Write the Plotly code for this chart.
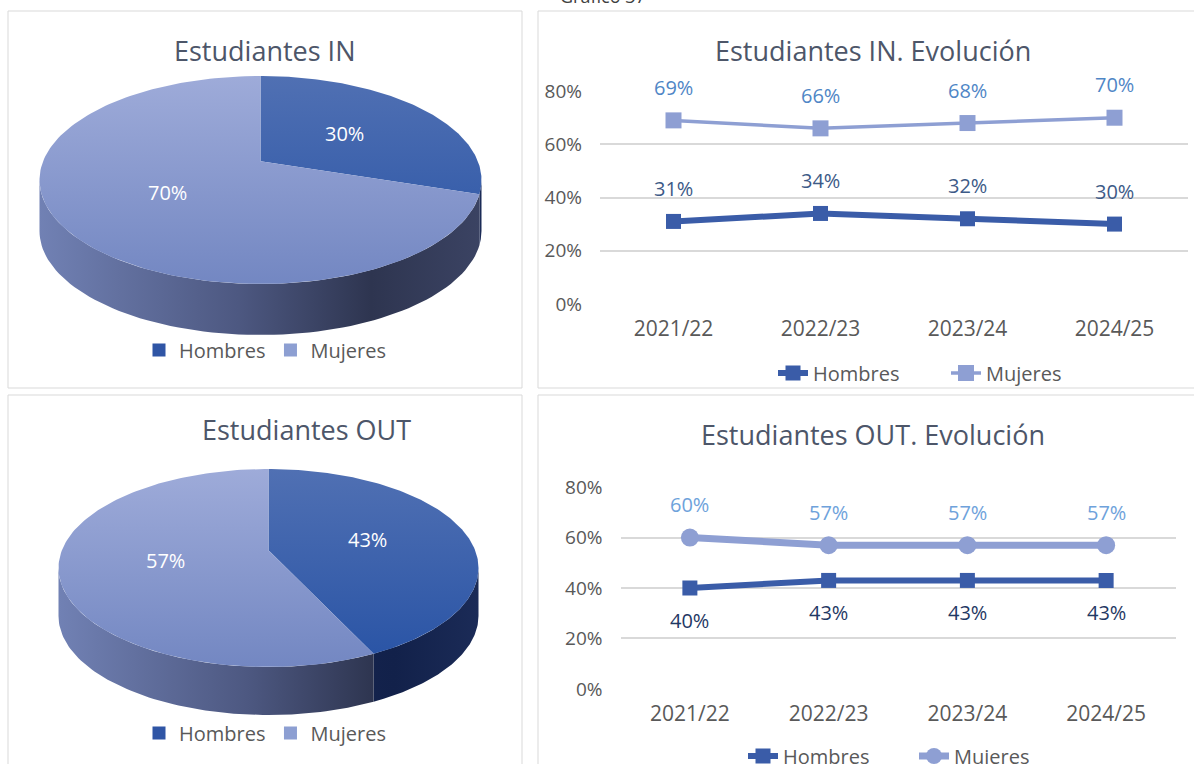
import numpy as np
import plotly.graph_objects as go

# ---- data -------------------------------------------------------------
years = ["2021/22", "2022/23", "2023/24", "2024/25"]
in_hombres = [31, 34, 32, 30]
in_mujeres = [69, 66, 68, 70]
out_hombres = [40, 43, 43, 43]
out_mujeres = [60, 57, 57, 57]

pie_labels = ["Hombres", "Mujeres"]
pie_in = [30, 70]
pie_out = [43, 57]

# ---- page geometry (pixels) -------------------------------------------
W, H = 1194, 764
FONT = "Open Sans, Lato, sans-serif"
GRAY = "#595959"
TITLE = "#4d5669"

C_H = "#3a5ca8"      # Hombres
C_M = "#8e9fd3"      # Mujeres


def fx(x):
    return x / W


def fy(y):
    return 1 - y / H


fig = go.Figure()

# ---- tilted 3D pies drawn on a pixel-scaled overlay axis ---------------
TOP_SCALES = {
    "Hombres": [[0, "#5070b3"], [1, "#2853a5"]],
    "Mujeres": [[0, "#9eabd9"], [1, "#7387c2"]],
}
WALL_SCALES = {
    "Hombres": [[0, "#1d2d5a"], [0.5, "#172753"], [0.8, "#12214a"], [1, "#1b2b57"]],
    "Mujeres": [[0, "#7181b4"], [0.45, "#4d5881"], [0.75, "#2e3550"], [1, "#3b4363"]],
}


def pie3d(values, labels, cx, cy, rx, ry, depth, alpha):
    total = float(sum(values))
    rxp = rx * np.sqrt(1 - alpha ** 2)

    def proj(theta, r=1.0):
        t = np.radians(theta)
        u = r * np.cos(t)
        v = r * np.sin(t)
        d = 1 + alpha * v
        return cx + rxp * u / d, cy - ry * (v + alpha) / d

    vis_lo = 180 + np.degrees(np.arcsin(alpha))
    vis_hi = 360 - np.degrees(np.arcsin(alpha))

    spans = []
    a0 = 90.0
    for v in values:
        a1 = a0 - 360.0 * v / total
        spans.append((a1, a0))
        a0 = a1

    # side walls (front half only)
    for (a1, a0), lab in zip(spans, labels):
        for k in (-1, 0, 1):
            lo = max(a1, vis_lo + 360 * k)
            hi = min(a0, vis_hi + 360 * k)
            if hi <= lo:
                continue
            th = np.linspace(lo, hi, 80)
            X, Y = proj(th)
            xs = np.concatenate([X, X[::-1], X[:1]])
            ys = np.concatenate([Y, (Y + depth)[::-1], Y[:1]])
            fig.add_trace(go.Scatter(
                x=xs, y=ys, mode="lines", fill="toself",
                line=dict(width=0),
                fillgradient=dict(type="horizontal", colorscale=WALL_SCALES[lab],
                                  start=cx - rx, stop=cx + rx),
                xaxis="x3", yaxis="y3", showlegend=False, hoverinfo="skip"))

    # top faces
    vx, vy = proj(0.0, 0.0)
    for (a1, a0), lab, v in zip(spans, labels, values):
        th = np.linspace(a0, a1, 160)
        X, Y = proj(th)
        xs = np.concatenate([[vx], X, [vx]])
        ys = np.concatenate([[vy], Y, [vy]])
        fig.add_trace(go.Scatter(
            x=xs, y=ys, mode="lines", fill="toself",
            line=dict(width=0),
            fillgradient=dict(type="vertical", colorscale=TOP_SCALES[lab],
                              start=cy - ry, stop=cy + ry),
            xaxis="x3", yaxis="y3", showlegend=False, hoverinfo="skip"))
        mx, my = proj((a0 + a1) / 2, 0.5)
        fig.add_annotation(x=float(mx), y=float(my), xref="x3", yref="y3",
                           text=f"{v / total * 100:.0f}%", showarrow=False,
                           font=dict(family=FONT, size=20, color="white"))


pie3d(pie_in, pie_labels, cx=260.5, cy=180, rx=221, ry=104, depth=51, alpha=0.18)
pie3d(pie_out, pie_labels, cx=268.5, cy=568, rx=210, ry=99, depth=48, alpha=0.18)

# pie legends
for leg in ("legend", "legend2"):
    for lab, col in zip(pie_labels, ["#2f55a5", "#8d9fd2"]):
        fig.add_trace(go.Scatter(
            x=[None], y=[None], mode="markers", name=lab, legend=leg,
            marker=dict(symbol="square", size=13, color=col),
            xaxis="x3", yaxis="y3"))

# ---- line charts --------------------------------------------------------
fig.add_trace(go.Scatter(
    x=years, y=in_hombres, name="Hombres", mode="lines+markers", legend="legend3",
    line=dict(color=C_H, width=6), marker=dict(symbol="square", size=15, color=C_H),
    xaxis="x", yaxis="y"))
fig.add_trace(go.Scatter(
    x=years, y=in_mujeres, name="Mujeres", mode="lines+markers", legend="legend3",
    line=dict(color=C_M, width=3.5), marker=dict(symbol="square", size=16, color=C_M),
    xaxis="x", yaxis="y"))
fig.add_trace(go.Scatter(
    x=years, y=out_hombres, name="Hombres", mode="lines+markers", legend="legend4",
    line=dict(color=C_H, width=6), marker=dict(symbol="square", size=15, color=C_H),
    xaxis="x2", yaxis="y2"))
fig.add_trace(go.Scatter(
    x=years, y=out_mujeres, name="Mujeres", mode="lines+markers", legend="legend4",
    line=dict(color=C_M, width=7), marker=dict(symbol="circle", size=18, color=C_M),
    xaxis="x2", yaxis="y2"))

# value labels
def value_labels(xs, ys, xref, yref, shift, color):
    for x, y in zip(xs, ys):
        fig.add_annotation(x=x, y=y, xref=xref, yref=yref, yshift=shift,
                           text=f"{y}%", showarrow=False,
                           font=dict(family=FONT, size=20, color=color))


value_labels(years, in_mujeres, "x", "y", 33, "#4f86c6")
value_labels(years, in_hombres, "x", "y", 33, "#3d5a87")
value_labels(years, out_mujeres, "x2", "y2", 33, "#6ea2db")
value_labels(years, out_hombres, "x2", "y2", -32, "#1f3864")

# titles
for text, x, y in [("Estudiantes IN", 265, 50),
                   ("Estudiantes OUT", 306, 429),
                   ("Estudiantes IN. Evolución", 873, 50),
                   ("Estudiantes OUT. Evolución", 873, 434)]:
    fig.add_annotation(x=fx(x), y=fy(y), xref="paper", yref="paper",
                       xanchor="center", yanchor="middle", showarrow=False,
                       text=text, font=dict(family=FONT, size=27, color=TITLE))

fig.add_annotation(x=fx(603), y=fy(-4), xref="paper", yref="paper",
                   xanchor="center", yanchor="middle", showarrow=False,
                   text="Gráfico 37", font=dict(family=FONT, size=18, color="#404040"))

# panel frames
for x0, y0, x1, y1 in [(8, 11, 522, 388), (538, 11, 1210, 388),
                       (8, 395, 522, 780), (538, 395, 1210, 780)]:
    fig.add_shape(type="rect", xref="paper", yref="paper",
                  x0=fx(x0), x1=fx(x1), y0=fy(y1), y1=fy(y0),
                  line=dict(color="#d9d9d9", width=1), layer="below")

axis_y = dict(range=[-0.05, 80.05], dtick=20, ticksuffix="%", showgrid=True,
              gridcolor="#d9d9d9", gridwidth=1.5, zeroline=False, showline=False,
              tickfont=dict(family=FONT, size=19, color=GRAY), ticklabelstandoff=17,
              fixedrange=True)
axis_x = dict(type="category", range=[-0.5, 3.5], showgrid=False, showline=False,
              zeroline=False, ticks="", tickfont=dict(family=FONT, size=21, color=GRAY),
              ticklabelstandoff=10, fixedrange=True)

legend_common = dict(orientation="h", xanchor="center", yanchor="middle",
                     bgcolor="rgba(0,0,0,0)", font=dict(family=FONT, size=20, color=GRAY),
                     itemclick=False, itemdoubleclick=False)

fig.update_layout(
    width=W, height=H, autosize=False,
    margin=dict(l=0, r=0, t=0, b=0, autoexpand=False),
    paper_bgcolor="white", plot_bgcolor="rgba(0,0,0,0)",
    font=dict(family=FONT, color=GRAY),
    xaxis=dict(axis_x, domain=[fx(600), fx(1188)], anchor="y"),
    yaxis=dict(axis_y, domain=[fy(304), fy(91)], anchor="x"),
    xaxis2=dict(axis_x, domain=[fx(620.5), fx(1175.5)], anchor="y2"),
    yaxis2=dict(axis_y, domain=[fy(689), fy(487)], anchor="x2"),
    xaxis3=dict(domain=[0, 1], range=[0, W], visible=False, fixedrange=True, anchor="y3"),
    yaxis3=dict(domain=[0, 1], range=[H, 0], visible=False, fixedrange=True, anchor="x3"),
    legend=dict(legend_common, x=fx(265), y=fy(350)),
    legend2=dict(legend_common, x=fx(265), y=fy(733)),
    legend3=dict(legend_common, x=fx(946), y=fy(373), entrywidth=128),
    legend4=dict(legend_common, x=fx(914), y=fy(756), entrywidth=126),
    showlegend=True,
)

fig.write_html("out.html")
